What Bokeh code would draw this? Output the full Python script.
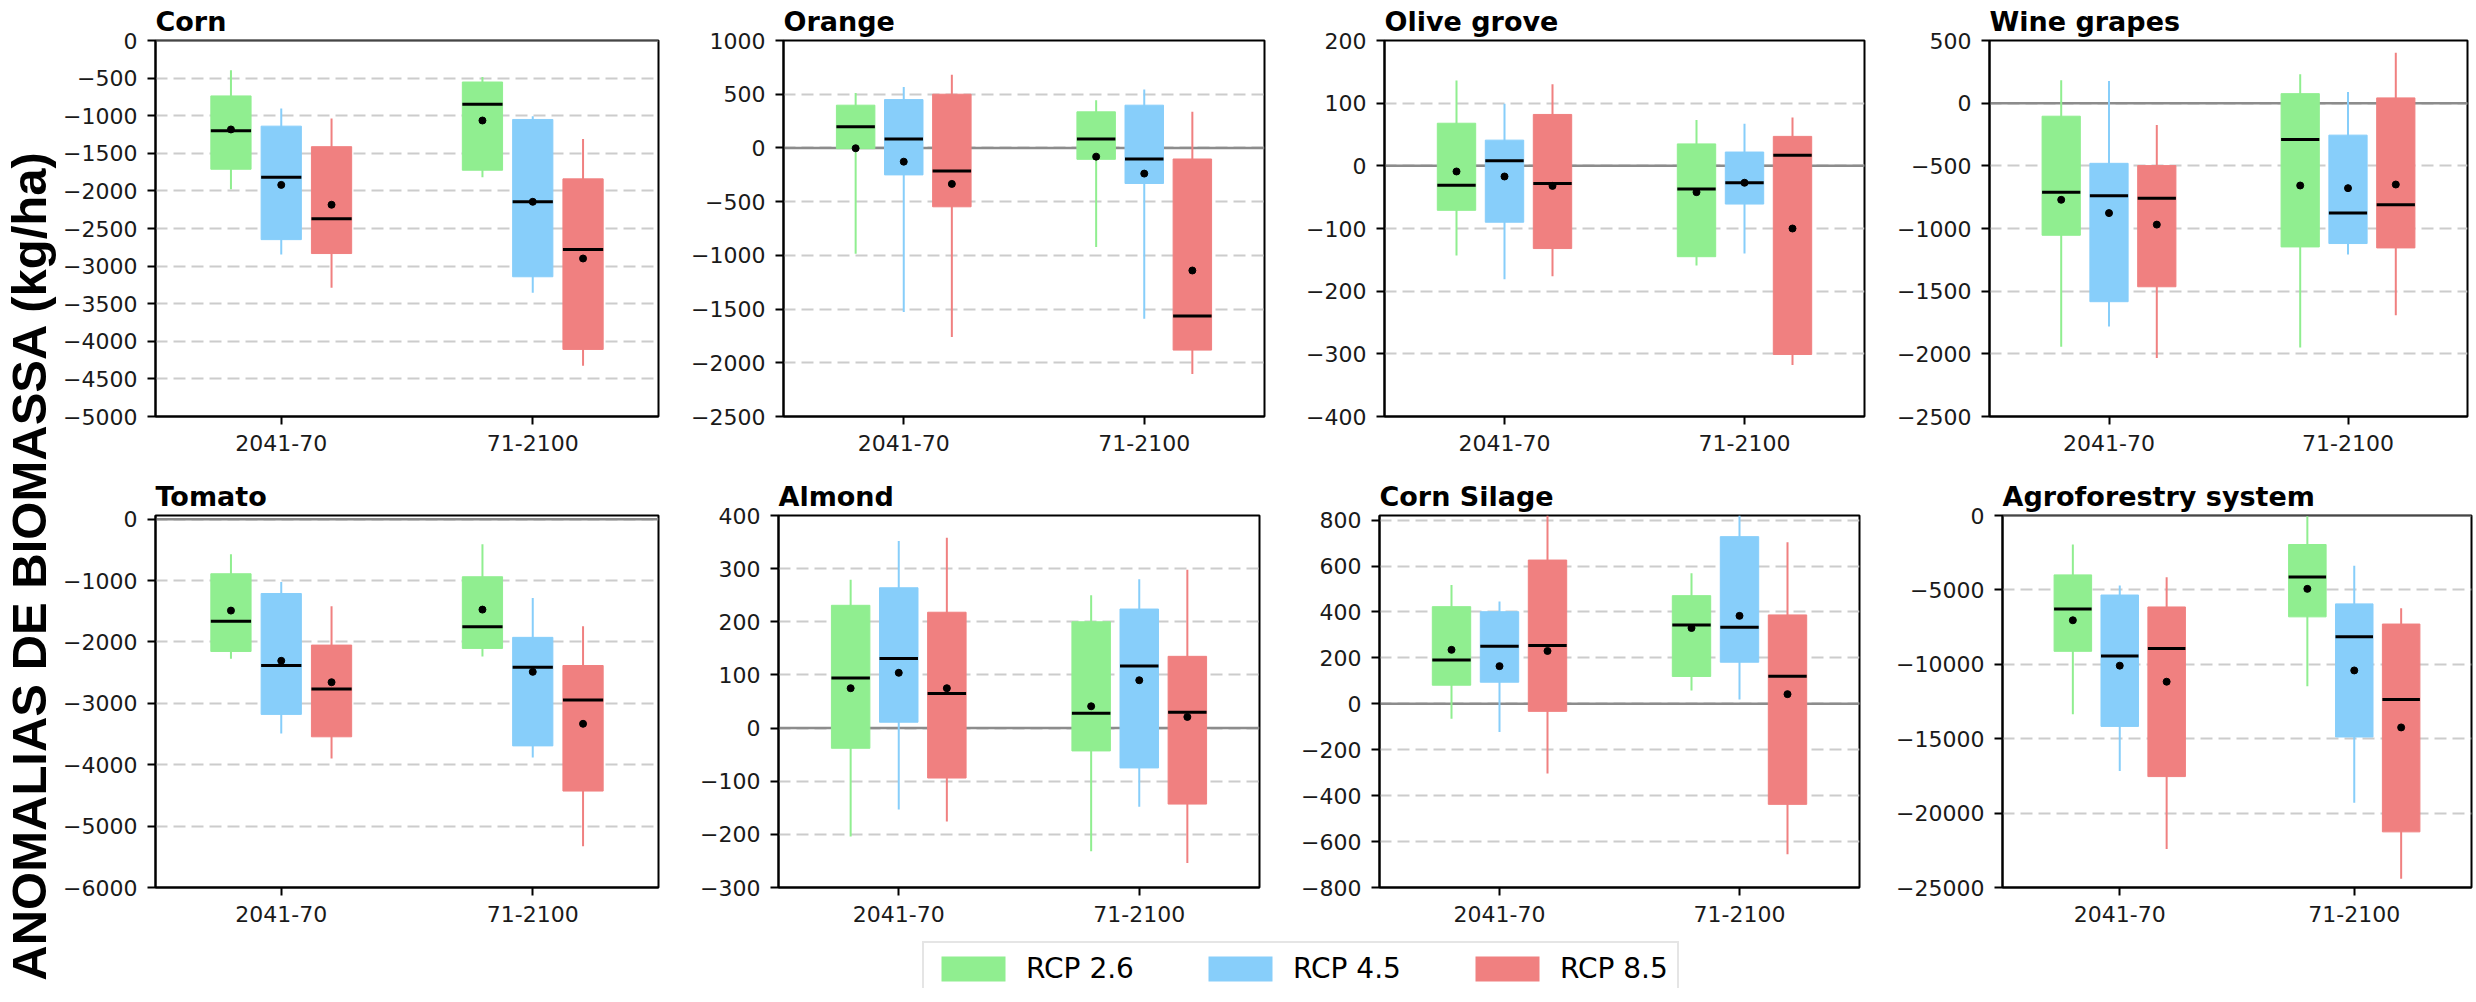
import numpy as np
from bokeh.plotting import figure
from bokeh.layouts import row, column
from bokeh.models import Range1d, FixedTicker, Span, Legend, LegendItem, ColumnDataSource
from bokeh.embed import file_html
from bokeh.resources import INLINE
from bokeh.core.properties import value

PERIODS = ["2041-70", "71-2100"]
SCENARIOS = ["RCP 2.6", "RCP 4.5", "RCP 8.5"]
COLORS = ["#90ee90", "#87cefa", "#f08080"]

# order of every list: 2041-70 (RCP 2.6, 4.5, 8.5), then 71-2100 (RCP 2.6, 4.5, 8.5)
CORN_LOW = [-1977, -2846, -3288, -1818, -3354, -4325]
CORN_Q1 = [-1712, -2648, -2833, -1725, -3142, -4108]
CORN_MED = [-1200, -1818, -2370, -847, -2145, -2780]
CORN_Q3 = [-737, -1139, -1412, -552, -1050, -1840]
CORN_HIGH = [-397, -905, -1037, -485, -1006, -1311]
CORN_MEAN = [-1183, -1920, -2184, -1064, -2145, -2899]

ORANGE_LOW = [-986, -1527, -1759, -922, -1589, -2105]
ORANGE_Q1 = [-7, -251, -548, -106, -331, -1882]
ORANGE_MED = [197, 82, -214, 82, -103, -1564]
ORANGE_Q3 = [398, 450, 500, 336, 398, -103]
ORANGE_HIGH = [512, 567, 682, 444, 543, 336]
ORANGE_MEAN = [-3, -128, -335, -81, -239, -1141]

OLIVE_LOW = [-143, -181, -176, -159, -140, -318]
OLIVE_Q1 = [-71, -90, -132, -145, -61, -301]
OLIVE_MED = [-31, 8, -28, -37, -27, 17]
OLIVE_Q3 = [68, 41, 82, 35, 22, 47]
OLIVE_HIGH = [136, 99, 130, 73, 67, 77]
OLIVE_MEAN = [-9, -17, -32, -42, -27, -100]

WINE_LOW = [-1944, -1782, -2034, -1949, -1208, -1692]
WINE_Q1 = [-1054, -1584, -1465, -1147, -1120, -1155]
WINE_MED = [-710, -739, -758, -289, -877, -811]
WINE_Q3 = [-104, -480, -498, 76, -255, 42]
WINE_HIGH = [182, 177, -175, 230, 90, 402]
WINE_MEAN = [-771, -877, -969, -657, -678, -649]

TOMATO_LOW = [-2275, -3491, -3900, -2236, -3884, -5329]
TOMATO_Q1 = [-2155, -3180, -3545, -2105, -3693, -4429]
TOMATO_MED = [-1664, -2384, -2765, -1751, -2411, -2945]
TOMATO_Q3 = [-889, -1211, -2051, -938, -1925, -2384]
TOMATO_HIGH = [-573, -1025, -1418, -409, -1282, -1745]
TOMATO_MEAN = [-1489, -2307, -2656, -1473, -2487, -3333]

ALMOND_LOW = [-204, -153, -176, -232, -148, -254]
ALMOND_Q1 = [-38, 11, -94, -43, -75, -143]
ALMOND_MED = [94, 131, 65, 28, 117, 30]
ALMOND_Q3 = [231, 264, 218, 200, 224, 135]
ALMOND_HIGH = [279, 352, 358, 250, 280, 298]
ALMOND_MEAN = [75, 104, 75, 41, 90, 21]

SILAGE_LOW = [-65, -123, -304, 58, 19, -655]
SILAGE_Q1 = [81, 94, -33, 119, 181, -438]
SILAGE_MED = [191, 251, 254, 343, 333, 120]
SILAGE_Q3 = [423, 401, 626, 471, 728, 387]
SILAGE_HIGH = [517, 445, 820, 568, 820, 703]
SILAGE_MEAN = [235, 164, 230, 330, 383, 42]

AGRO_LOW = [-13349, -17179, -22408, -11468, -19312, -24404]
AGRO_Q1 = [-9128, -14174, -17546, -6812, -14885, -21261]
AGRO_MED = [-6284, -9450, -8945, -4128, -8142, -12362]
AGRO_Q3 = [-3991, -5344, -6147, -1950, -5940, -7294]
AGRO_HIGH = [-1950, -4702, -4151, -50, -3372, -6239]
AGRO_MEAN = [-7041, -10092, -11170, -4931, -10413, -14243]

TICK_FONT = "DejaVu Sans"


def panel(title, low, q1, med, q3, high, mean, ylo, yhi, ticks,
          fw, fh, bl, br, bt, bb):
    p = figure(frame_width=fw, frame_height=fh, min_border_left=bl,
               min_border_right=br, min_border_top=bt, min_border_bottom=bb,
               x_range=Range1d(-0.5, 1.5), y_range=Range1d(ylo, yhi),
               output_backend="svg", toolbar_location=None)
    p.title.text = title
    p.title.align = "left"
    p.title.offset = 0
    p.title.standoff = 7
    p.title.text_font = TICK_FONT
    p.title.text_font_size = "27px"
    p.title.text_font_style = "bold"
    p.title.text_color = "black"

    xs, cols = [], []
    for g in range(len(PERIODS)):
        for k in range(len(SCENARIOS)):
            xs.append(g + (k - 1) * 0.2)
            cols.append(COLORS[k])
    half = 0.08
    src = ColumnDataSource(dict(x=xs, low=low, q1=q1, med=med, q3=q3,
                                high=high, mean=mean, color=cols,
                                xl=[x - half for x in xs],
                                xr=[x + half for x in xs]))

    p.add_layout(Span(location=0, dimension="width", line_color="#8c8c8c",
                      line_width=2.5, level="underlay"))

    p.segment(x0="x", y0="low", x1="x", y1="high", source=src,
              line_color="color", line_width=2)
    p.vbar(x="x", bottom="q1", top="q3", width=2 * half, source=src,
           fill_color="color", line_color="color", line_width=1)
    p.segment(x0="xl", y0="med", x1="xr", y1="med", source=src,
              line_color="black", line_width=3)
    p.scatter(x="x", y="mean", source=src, size=7, color="black")

    p.xgrid.visible = False
    p.ygrid.ticker = FixedTicker(ticks=ticks)
    p.ygrid.grid_line_color = "#cccccc"
    p.ygrid.grid_line_width = 2
    p.ygrid.grid_line_dash = "12 6"

    p.xaxis.ticker = FixedTicker(ticks=[0, 1])
    p.xaxis.major_label_overrides = {0: PERIODS[0], 1: PERIODS[1]}
    p.yaxis.ticker = FixedTicker(ticks=ticks)
    for ax in (p.xaxis[0], p.yaxis[0]):
        ax.axis_line_color = "black"
        ax.axis_line_width = 2
        ax.major_tick_line_color = "black"
        ax.major_tick_line_width = 2
        ax.major_tick_in = 0
        ax.major_tick_out = 8
        ax.minor_tick_line_color = None
        ax.major_label_text_font = TICK_FONT
        ax.major_label_text_font_size = "22px"
        ax.major_label_text_color = "#1a1a1a"
    p.xaxis.major_label_standoff = 10
    p.yaxis.major_label_standoff = 10
    p.outline_line_color = "black"
    p.outline_line_width = 2
    p.background_fill_color = "white"
    return p


def steps(top, bottom, step):
    return list(range(top, bottom - 1, -step))


LAB_W = 60
R1H, R2H = 376, 372
corn = panel("Corn", CORN_LOW, CORN_Q1, CORN_MED, CORN_Q3, CORN_HIGH, CORN_MEAN,
             -5000, 0, steps(0, -5000, 500), 503, R1H, 82, 30, 39, 59)
orange = panel("Orange", ORANGE_LOW, ORANGE_Q1, ORANGE_MED, ORANGE_Q3, ORANGE_HIGH, ORANGE_MEAN,
               -2500, 1000, steps(1000, -2500, 500), 481, R1H, 90, 30, 39, 59)
olive = panel("Olive grove", OLIVE_LOW, OLIVE_Q1, OLIVE_MED, OLIVE_Q3, OLIVE_HIGH, OLIVE_MEAN,
              -400, 200, steps(200, -400, 100), 480, R1H, 90, 30, 39, 59)
wine = panel("Wine grapes", WINE_LOW, WINE_Q1, WINE_MED, WINE_Q3, WINE_HIGH, WINE_MEAN,
             -2500, 500, steps(500, -2500, 500), 478, R1H, 94, 10, 39, 59)

tomato = panel("Tomato", TOMATO_LOW, TOMATO_Q1, TOMATO_MED, TOMATO_Q3, TOMATO_HIGH, TOMATO_MEAN,
               -6000, 60, steps(0, -6000, 1000), 503, R2H, 82, 30, 39, 50)
almond = panel("Almond", ALMOND_LOW, ALMOND_Q1, ALMOND_MED, ALMOND_Q3, ALMOND_HIGH, ALMOND_MEAN,
               -300, 400, steps(400, -300, 100), 481, R2H, 90, 30, 39, 50)
silage = panel("Corn Silage", SILAGE_LOW, SILAGE_Q1, SILAGE_MED, SILAGE_Q3, SILAGE_HIGH, SILAGE_MEAN,
               -800, 820, steps(800, -800, 200), 480, R2H, 90, 30, 39, 50)
agro = panel("Agroforestry system", AGRO_LOW, AGRO_Q1, AGRO_MED, AGRO_Q3, AGRO_HIGH, AGRO_MEAN,
             -25000, 0, steps(0, -25000, 5000), 469, R2H, 113, 2, 39, 50)

# legend strip
LEG_W = 2468 - 8 - LAB_W
leg = figure(frame_width=LEG_W, frame_height=51, min_border=0,
             x_range=Range1d(0, 1), y_range=Range1d(0, 1),
             x_axis_type=None, y_axis_type=None,
             output_backend="svg", toolbar_location=None)
leg.outline_line_color = None
leg.xgrid.visible = False
leg.ygrid.visible = False
items = []
for name, c in zip(SCENARIOS, COLORS):
    proxy = ColumnDataSource(dict(x=[0.5], top=[0.5], bottom=[0.5]))
    r = leg.vbar(x="x", top="top", bottom="bottom", width=0.0,
                 fill_color=c, line_color=None, source=proxy)
    items.append(LegendItem(label=name, renderers=[r]))
legend = Legend(items=items, orientation="horizontal", location=(862, -8),
                glyph_width=80, glyph_height=31, label_standoff=13, spacing=66,
                padding=9, margin=0, label_text_font=TICK_FONT,
                label_text_font_size="28px", label_text_color="black",
                border_line_color="#cccccc", border_line_width=2,
                background_fill_color="white")
leg.add_layout(legend)

# y label strip
TOTAL_H = 474 + 461 + 51
lab = figure(width=LAB_W, height=TOTAL_H, min_border=0,
             x_range=Range1d(0, LAB_W), y_range=Range1d(0, TOTAL_H),
             x_axis_type=None, y_axis_type=None,
             output_backend="svg", toolbar_location=None)
lab.outline_line_color = None
lab.xgrid.visible = False
lab.ygrid.visible = False
lab.text(x=[28], y=[TOTAL_H - 565], text=["ANOMALIAS DE BIOMASSA (kg/ha)"],
         angle=np.pi / 2, text_align="center", text_baseline="middle",
         text_font=value("Liberation Sans"), text_font_style="bold",
         text_font_size="49px", text_color="black")

grid = column(row(corn, orange, olive, wine), row(tomato, almond, silage, agro), leg)
page = row(lab, grid)

open("out.html", "w").write(file_html(page, INLINE))
